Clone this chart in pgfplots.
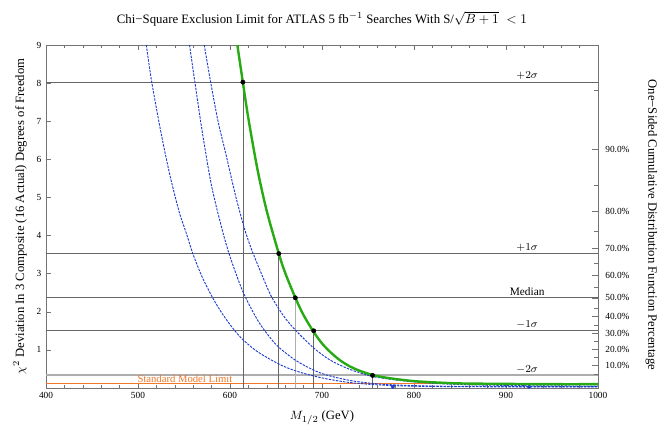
\documentclass[border=0pt]{standalone}
\usepackage{pgfplots}
\pgfplotsset{compat=1.18}
\usepackage{fontspec}
\setmainfont{Liberation Serif}
\definecolor{grn}{RGB}{40,170,20}
\definecolor{blu}{RGB}{30,60,210}
\definecolor{org}{RGB}{240,120,40}
\definecolor{axg}{gray}{0.45}
\definecolor{lng}{gray}{0.4}
\definecolor{lgt}{gray}{0.68}
\begin{document}
\begin{tikzpicture}
\fill[white] (-34.5pt,-34.5pt) rectangle (463.5pt,291pt);
\useasboundingbox (-34.5pt,-34.5pt) rectangle (463.5pt,291pt);
\begin{axis}[
  scale only axis, width=414pt, height=257.25pt,
  xmin=400, xmax=1000, ymin=0, ymax=9,
  xtick={400,500,...,1000}, minor xtick={420,440,...,980},
  ytick={1,2,...,9}, ytick pos=left,
  tick align=inside,
  major tick length=4pt, minor tick length=2.5pt,
  axis line style={axg},
  every tick/.style={axg, line width=0.4pt},
  tick label style={font=\fontsize{7}{8}\selectfont, black},
  /pgf/number format/assume math mode=true,
  /pgf/number format/set thousands separator={},
  clip mode=individual,
]
% sigma lines
\addplot[lng, line width=0.6pt] coordinates {(400,8.025) (1000,8.025)};
\addplot[lng, line width=0.6pt] coordinates {(400,3.527) (1000,3.527)};
\addplot[lng, line width=0.6pt] coordinates {(400,2.366) (1000,2.366)};
\addplot[lng, line width=0.6pt] coordinates {(400,1.50) (1000,1.50)};
\addplot[lgt, line width=1.4pt] coordinates {(400,0.33) (1000,0.33)};
\addplot[org, line width=0.6pt] coordinates {(400,0.11) (1000,0.11)};
% drop lines
\addplot[lng, line width=0.5pt] coordinates {(614,0) (614,8.025)};
\addplot[lng, line width=0.5pt] coordinates {(653,0) (653,3.527)};
\addplot[lgt, line width=1.1pt] coordinates {(671,0) (671,2.366)};
\addplot[lng, line width=0.5pt] coordinates {(691,0) (691,1.50)};
\addplot[lng, line width=0.5pt] coordinates {(755,0) (755,0.33)};
% blue curves
\addplot[blu, line width=0.7pt, dash pattern=on 1.8pt off 0.9pt, smooth] coordinates {
(509,9.0) (515,8.02) (525,6.7) (535,5.55) (545,4.6) (552,4.1) (560,3.5) (570,2.9)
(582,2.33) (593,1.9) (605,1.51) (614,1.27) (630,0.95) (653,0.63) (670,0.46) (687,0.34)
(705,0.24) (728,0.15) (750,0.10) (780,0.06) (820,0.04) (900,0.03) (1000,0.03)};
\addplot[blu, line width=0.7pt, dash pattern=on 1.8pt off 0.9pt, smooth] coordinates {
(556,9.0) (562,8.0) (570,6.7) (580,5.3) (591,4.2) (600,3.45) (614,2.53) (630,1.78)
(643,1.34) (653,1.07) (671,0.73) (690,0.48) (705,0.34) (730,0.2) (755,0.12) (780,0.08)
(820,0.05) (880,0.04) (1000,0.035)};
\addplot[blu, line width=0.7pt, dash pattern=on 1.8pt off 0.9pt, smooth] coordinates {
(572,9.0) (579,8.02) (587,7.0) (596,6.09) (606,5.05) (616,4.16) (624,3.6) (635,2.95)
(645,2.4) (658,1.9) (671,1.52) (691,1.05) (709,0.73) (728,0.51) (745,0.37) (755,0.30)
(780,0.21) (800,0.16) (830,0.11) (870,0.08) (920,0.06) (1000,0.05)};
\addplot[blu, only marks, mark=*, mark size=1.3pt] coordinates {(777,0.03) (925,0.03)};
% green curve
\addplot[grn, line width=1.8pt, smooth] coordinates {
(608,9.0) (614,8.02) (620,7.07) (630,5.72) (640,4.64) (653,3.53) (660,3.02) (671,2.37)
(680,1.91) (691,1.47) (700,1.17) (710,0.92) (720,0.72) (730,0.57) (740,0.46) (755,0.34)
(770,0.27) (785,0.22) (800,0.18) (820,0.15) (850,0.12) (900,0.108) (950,0.10) (1000,0.10)};
% dots
\addplot[black, only marks, mark=*, mark size=1.6pt] coordinates {
(614,8.025) (653,3.527) (671,2.366) (691,1.50) (755,0.33)};
% labels
\node[anchor=south, inner sep=1.5pt, font=\fontsize{8.5}{9}\selectfont] at (axis cs:923,8.025) {$+2\sigma$};
\node[anchor=south, inner sep=1.5pt, font=\fontsize{8.5}{9}\selectfont] at (axis cs:923,3.527) {$+1\sigma$};
\node[anchor=south, inner sep=1.5pt, font=\fontsize{8.5}{9}\selectfont] at (axis cs:923,2.366) {Median};
\node[anchor=south, inner sep=1.5pt, font=\fontsize{8.5}{9}\selectfont] at (axis cs:923,1.50) {$-1\sigma$};
\node[anchor=south, inner sep=1.5pt, font=\fontsize{8.5}{9}\selectfont] at (axis cs:923,0.33) {$-2\sigma$};
\node[anchor=south, inner sep=0.8pt, text=org, font=\fontsize{8}{9}\selectfont] at (axis cs:551,0.11) {Standard Model Limit};
\node[font=\fontsize{9.6}{11}\selectfont] at (rel axis cs:0.5,1) [yshift=19.5pt] {Chi−Square Exclusion Limit for ATLAS 5 fb$^{-1}$ Searches With S/$\sqrt{B+1}\;<1$};
\node[font=\fontsize{9.5}{11}\selectfont] at (rel axis cs:0.5,0) [yshift=-22.5pt] {$M_{1/2}$ (GeV)};
\node[rotate=90, yshift=19.5pt, font=\fontsize{9.5}{11}\selectfont] at (rel axis cs:0,0.5) {$\chi^2$ Deviation In 3 Composite (16 Actual) Degrees of Freedom};
\node[rotate=-90, yshift=40pt, font=\fontsize{9.5}{11}\selectfont] at (rel axis cs:1,0.475) {One−Sided Cumulative Distribution Function Percentage};
\end{axis}
\begin{axis}[
  scale only axis, width=414pt, height=257.25pt,
  xmin=400, xmax=1000, ymin=0, ymax=9,
  axis x line=none, axis y line*=right,
  tick align=inside,
  major tick length=4.5pt, minor tick length=3pt,
  axis line style={axg},
  every tick/.style={axg, line width=0.4pt},
  ytick={0.584,1.005,1.424,1.869,2.366,2.946,3.665,4.642,6.251},
  yticklabels={10.0\%,20.0\%,30.0\%,40.0\%,50.0\%,60.0\%,70.0\%,80.0\%,90.0\%},
  minor ytick={0.352,0.797,1.213,1.642,2.10,2.65,3.283,4.108,5.317,7.815},
  yticklabel style={font=\fontsize{7}{8}\selectfont, black, xshift=2pt},
]
\end{axis}
\end{tikzpicture}
\end{document}
